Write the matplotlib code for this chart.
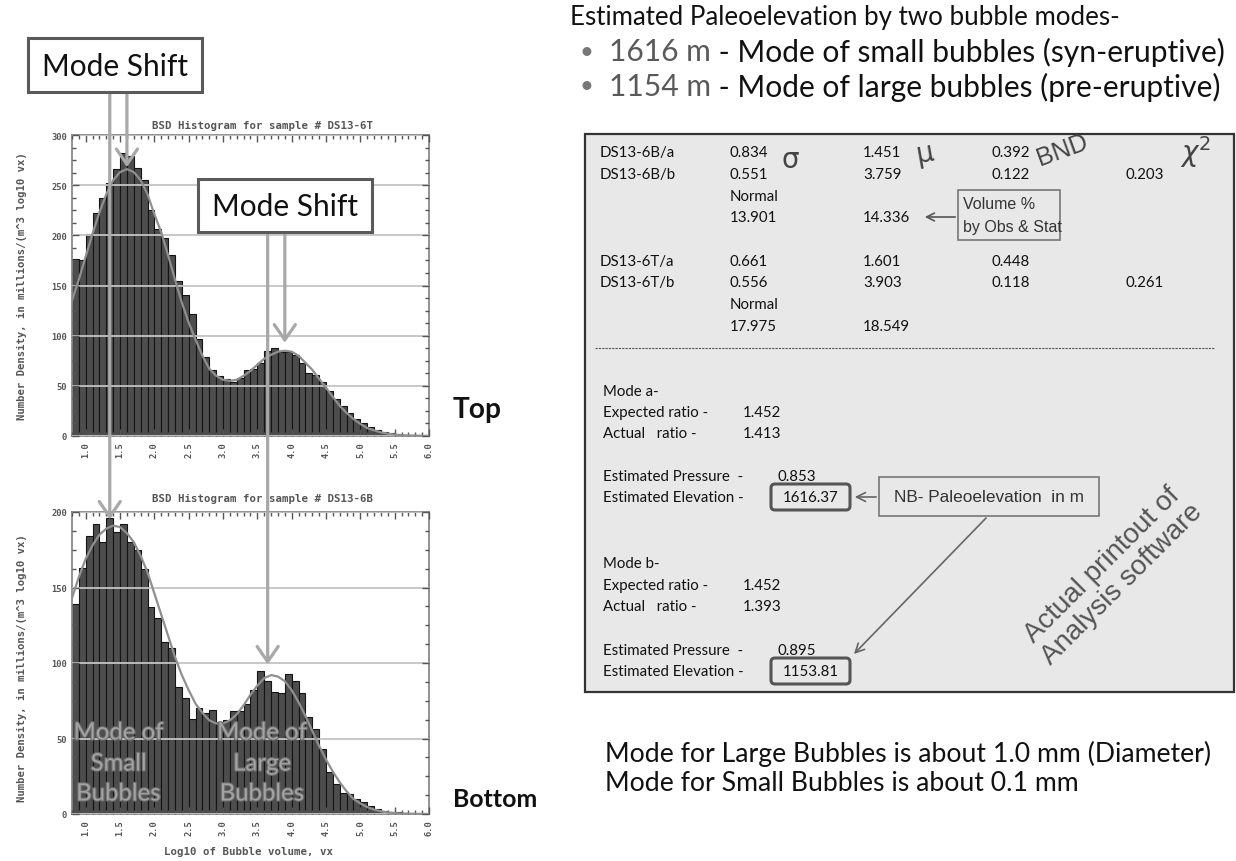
import numpy as np
import matplotlib
matplotlib.use('Agg')
import matplotlib.pyplot as plt
from matplotlib import transforms
from matplotlib.lines import Line2D
from matplotlib.patches import Rectangle, FancyBboxPatch, ConnectionPatch, FancyArrowPatch
from matplotlib.ticker import MultipleLocator, AutoMinorLocator, FormatStrFormatter
import matplotlib.patheffects as pe

# ---- histogram data (bins of 0.1 log10 units starting at 0.8) ----
bin_start = 0.8
bin_width = 0.1
top_counts = [176, 175, 201, 222, 237, 252, 266, 282, 279, 267, 255, 225, 206, 197, 180,
              154, 141, 122, 97, 79, 66, 60, 57, 54, 58, 66, 67, 73, 85, 88, 84, 84, 81,
              73, 63, 61, 54, 45, 37, 30, 23, 17, 13, 9, 6, 4, 3, 2, 1, 1, 0.5, 0.5]
bottom_counts = [139, 163, 184, 192, 180, 196, 187, 192, 180, 175, 162, 137, 130, 114, 110,
                 84, 77, 63, 70, 67, 69, 61, 62, 68, 68, 73, 82, 95, 88, 81, 80, 93, 88, 80,
                 64, 56, 43, 28, 20, 14, 13, 10, 8, 5, 3, 2, 1.5, 1, 0.5, 0.5, 0.3, 0.2]

# fitted bimodal curves, read every 0.1 from 0.8 to 6.0
fit_start = 0.8
fit_step = 0.1
top_fit = [135, 156, 179, 202, 223, 241, 255, 263, 266, 263, 255, 241, 221, 203, 180,
           156, 133, 113, 96, 80, 67, 60, 56, 55, 56, 60, 65, 71, 77, 81, 84, 85, 84, 80,
           73, 66, 57, 48, 39, 30, 23, 17, 12, 8, 5.6, 3.6, 2.3, 1.4, 0.8, 0.5, 0.3, 0.15, 0.1]
bottom_fit = [143, 157, 169, 178, 185, 189, 191, 190, 186, 180, 171, 160, 146, 132, 118,
              104, 92, 82, 73, 67, 62, 60, 60, 62, 66, 72, 79, 85, 90, 92, 91, 88, 82, 74,
              65, 55, 45, 36, 28, 21, 15, 10, 7, 4.6, 2.9, 1.8, 1.0, 0.6, 0.3, 0.2, 0.1, 0.05, 0.02]

top_title = 'BSD Histogram for sample # DS13-6T'
bottom_title = 'BSD Histogram for sample # DS13-6B'
y_label = 'Number Density, in millions/(m^3 log10 vx)'
x_label = 'Log10 of Bubble volume, vx'

# mode positions marked by arrows (log10 volume, density)
top_modes = [(1.6, 268), (3.9, 93)]
bottom_modes = [(1.35, 195), (3.65, 99)]

# ---- printout table ----
table_rows = [
    ['DS13-6B/a', '0.834', '1.451', '0.392', ''],
    ['DS13-6B/b', '0.551', '3.759', '0.122', '0.203'],
    ['', 'Normal', '', '', ''],
    ['', '13.901', '14.336', '', ''],
    ['DS13-6T/a', '0.661', '1.601', '0.448', ''],
    ['DS13-6T/b', '0.556', '3.903', '0.118', '0.261'],
    ['', 'Normal', '', '', ''],
    ['', '17.975', '18.549', '', ''],
]
mode_a = ['Mode a-', 'Expected ratio -', 'Actual   ratio -', 'Estimated Pressure  -', 'Estimated Elevation -']
mode_a_vals = ['', '1.452', '1.413', '0.853', '1616.37']
mode_b = ['Mode b-', 'Expected ratio -', 'Actual   ratio -', 'Estimated Pressure  -', 'Estimated Elevation -']
mode_b_vals = ['', '1.452', '1.393', '0.895', '1153.81']

W, H = 1236, 862
fig = plt.figure(figsize=(W / 100, H / 100), dpi=100)
PX = transforms.Affine2D().scale(1 / W, -1 / H).translate(0, 1) + fig.transFigure
R = fig.canvas.get_renderer()

SANS = ['Lato', 'DejaVu Sans']
NARROW = ['Liberation Sans Narrow', 'Liberation Sans', 'DejaVu Sans']
MONO = 'DejaVu Sans Mono'


def size_for(s, w, vertical=False, **kw):
    t = fig.text(0, 0, s, fontsize=20, **kw)
    bb = t.get_window_extent(R)
    t.remove()
    return 20 * w / (bb.height if vertical else bb.width)


def ptext(x, y, s, width=None, size=None, **kw):
    if width is not None:
        size = size_for(s, width, family=kw.get('family'), weight=kw.get('weight', 'normal'))
    kw.setdefault('va', 'center')
    return fig.text(x, y, s, transform=PX, fontsize=size, **kw)


def ax_rect(l, t, r, b):
    return [l / W, 1 - b / H, (r - l) / W, (b - t) / H]


ax_t = fig.add_axes(ax_rect(72, 136, 429, 437))
ax_b = fig.add_axes(ax_rect(72, 513, 429, 815))

tick_size = 6.3
for ax, counts, fit, ymax in [(ax_t, top_counts, top_fit, 300), (ax_b, bottom_counts, bottom_fit, 200)]:
    centers = bin_start + bin_width * (np.arange(len(counts)) + 0.5)
    ax.bar(centers, counts, width=bin_width, color='#4d4d4d', edgecolor='#141414', linewidth=0.8, zorder=1)
    xs = fit_start + fit_step * np.arange(len(fit))
    ax.plot(xs, fit, color='#8f8f8f', lw=1.6, zorder=3)
    ax.set_xlim(0.8, 6.0)
    ax.set_ylim(0, ymax)
    ax.xaxis.set_major_locator(MultipleLocator(0.5))
    ax.xaxis.set_minor_locator(MultipleLocator(0.1))
    ax.xaxis.set_major_formatter(FormatStrFormatter('%.1f'))
    ax.yaxis.set_major_locator(MultipleLocator(50))
    ax.yaxis.set_minor_locator(AutoMinorLocator(4))
    ax.set_axisbelow(False)
    ax.grid(axis='y', which='major', color='#c4c4c4', lw=1.3)
    ax.tick_params(which='both', direction='in', top=True, right=True, color='#555555', width=1)
    ax.tick_params(which='major', length=5)
    ax.tick_params(which='minor', length=3)
    ax.tick_params(axis='x', labelrotation=90, pad=4)
    for lab in ax.get_xticklabels() + ax.get_yticklabels():
        lab.set_family(MONO)
        lab.set_fontsize(tick_size)
        lab.set_color('#555555')
        lab.set_weight('bold')
    for sp in ax.spines.values():
        sp.set_color('#8a8a8a')
        sp.set_linewidth(1.3)

# titles and axis labels in gnuplot style
mono_kw = dict(family=MONO, color='#555555', ha='center', weight='bold')
ptext(262, 126, top_title, width=220, **mono_kw)
ptext(263, 499, bottom_title, width=222, **mono_kw)
ysz = size_for(y_label, 270, vertical=True, family=MONO, weight='bold', rotation=90)
ptext(22, 286, y_label, size=ysz, rotation=90, **mono_kw)
ptext(22, 668, y_label, size=ysz, rotation=90, **mono_kw)
ptext(249, 852, x_label, width=168, **mono_kw)

# overlay text on the bottom histogram, one line at a time
ov_size = size_for('Mode of', 90, family=SANS)
for xpos, words in [(1.48, ['Mode of', 'Small', 'Bubbles']), (3.57, ['Mode of', 'Large', 'Bubbles'])]:
    tr = transforms.blended_transform_factory(ax_b.transData, PX)
    for y, word in zip([734, 765, 795], words):
        ax_b.text(xpos, y, word, transform=tr, ha='center', va='center', fontsize=ov_size, family=SANS,
                  color='#a3a3a3', zorder=4, clip_on=False,
                  path_effects=[pe.withStroke(linewidth=1.6, foreground='#6a6a6a')])

# Mode Shift boxes
for (l, t, r, b) in [(28, 39, 202, 93), (198, 180, 372, 233)]:
    fig.add_artist(Rectangle((l, t), r - l, b - t, transform=PX, fc='white', ec='#5a5a5a', lw=2.2, zorder=6))
    ptext((l + r) / 2, (t + b) / 2 + 1, 'Mode Shift', width=146, family=SANS, ha='center', zorder=7, color='#111111')

# vertical arrows from the boxes to the modes
arrow_kw = dict(arrowstyle='->,head_length=0.55,head_width=0.38', mutation_scale=20, color='#a8a8a8', lw=2.3, zorder=5)
for ax, (mx, my), top in [(ax_t, top_modes[0], 93), (ax_b, bottom_modes[0], 93),
                          (ax_t, top_modes[1], 233), (ax_b, bottom_modes[1], 233)]:
    start = transforms.blended_transform_factory(ax.transData, PX)
    con = ConnectionPatch(xyA=(mx, top), coordsA=start, xyB=(mx, my), coordsB=ax.transData, **arrow_kw)
    fig.add_artist(con)

ptext(453, 410, 'Top', width=49, family=SANS, weight='bold', color='#111111')
ptext(453, 800, 'Bottom', width=84, family=SANS, weight='bold', color='#111111')

# ---- right side ----
ptext(570, 18, 'Estimated Paleoelevation by two bubble modes-', width=550, family=SANS, color='#111111')
line2 = [('1616 m', '#5a5a5a'), (' - Mode of small bubbles (syn-eruptive)', '#111111')]
line3 = [('1154 m', '#5a5a5a'), (' - Mode of large bubbles (pre-eruptive)', '#111111')]
bsize = size_for(''.join(p for p, _ in line2), 617, family=SANS)
for y, parts in [(52, line2), (87, line3)]:
    ptext(580, y, '\u2022', size=bsize * 0.8, family=SANS, color='#777777')
    x = 609
    for s, c in parts:
        t = ptext(x, y, s, size=bsize, family=SANS, color=c)
        x += t.get_window_extent(R).width

# printout panel
fig.add_artist(Rectangle((585, 135), 649, 558, transform=PX, fc='#e8e8e8', ec='#333333', lw=1.6, zorder=1))
fs = size_for('DS13-6B/a', 75, family=SANS)
col_x = [600, 730, 863, 992, 1125]
row_y = [153, 175, 197, 218, 262, 283, 305, 327]
for y, row in zip(row_y, table_rows):
    for x, s in zip(col_x, row):
        if s:
            ptext(x, y, s, size=fs, family=SANS, color='#111111', zorder=3)
fig.add_artist(Line2D([595, 1215], [349, 349], transform=PX, color='#555555', lw=0.8,
                      ls=(0, (2, 1)), zorder=3))

greek = dict(family='DejaVu Sans', color='#444444', va='center', ha='center', zorder=3)
ptext(790, 160, '\u03c3', size=20, **greek)
ptext(925, 154, '\u03bc', size=20, rotation=10, **greek)
ptext(1062, 150, 'BND', size=18, family=NARROW, color='#444444', ha='center', rotation=20, zorder=3)
ptext(1196, 152, r'$\chi^2$', size=20, color='#444444', ha='center', zorder=3)

# volume % callout
fig.add_artist(Rectangle((958, 191), 102, 50, transform=PX, fc='#e8e8e8', ec='#777777', lw=1.2, zorder=3))
ptext(963, 205, 'Volume %', size=11.5, family=NARROW, color='#333333', zorder=4)
ptext(963, 228, 'by Obs & Stat', size=11.5, family=NARROW, color='#333333', zorder=4)
fig.add_artist(FancyArrowPatch((958, 218), (922, 218), transform=PX, arrowstyle='->', mutation_scale=14,
                               color='#555555', lw=1.2, zorder=4))

# mode sections
for ys, labels, vals in [([392, 413, 434, 477, 498], mode_a, mode_a_vals),
                         ([564, 586, 607, 651, 672], mode_b, mode_b_vals)]:
    for i, (y, lab, v) in enumerate(zip(ys, labels, vals)):
        ptext(603, y, lab, size=fs, family=SANS, color='#111111', zorder=3)
        if i in (1, 2):
            ptext(743, y, v, size=fs, family=SANS, color='#111111', zorder=3)
        elif i == 3:
            ptext(778, y, v, size=fs, family=SANS, color='#111111', zorder=3)
        elif i == 4:
            fig.add_artist(FancyBboxPatch((771, y - 13), 79, 26, boxstyle='round,pad=0,rounding_size=4',
                                          transform=PX, fc='none', ec='#555555', lw=2.2, zorder=3))
            ptext(810.5, y, v, size=fs, family=SANS, color='#111111', ha='center', zorder=4)

# NB callout
fig.add_artist(Rectangle((879, 478), 220, 39, transform=PX, fc='#e8e8e8', ec='#777777', lw=1.2, zorder=3))
ptext(989, 498, 'NB- Paleoelevation  in m', width=190, family=NARROW, color='#333333', ha='center', zorder=4)
fig.add_artist(FancyArrowPatch((879, 498), (852, 498), transform=PX, arrowstyle='->', mutation_scale=16,
                               color='#666666', lw=1.2, zorder=4))
fig.add_artist(FancyArrowPatch((988, 517), (852, 657), transform=PX, arrowstyle='->', mutation_scale=16,
                               color='#666666', lw=1.2, zorder=4))

ptext(1112, 575, 'Actual printout of\nAnalysis software', size=20, family=NARROW, color='#555555',
      ha='center', rotation=45, rotation_mode='anchor', linespacing=1.1, zorder=3)

bottom_lines = ['Mode for Large Bubbles is about 1.0 mm (Diameter)', 'Mode for Small Bubbles is about 0.1 mm']
lsize = size_for(bottom_lines[0], 606, family=SANS)
for y, s in zip([754, 784], bottom_lines):
    ptext(605, y, s, size=lsize, family=SANS, color='#111111')

fig.savefig('out.png', dpi=100, facecolor='white')
